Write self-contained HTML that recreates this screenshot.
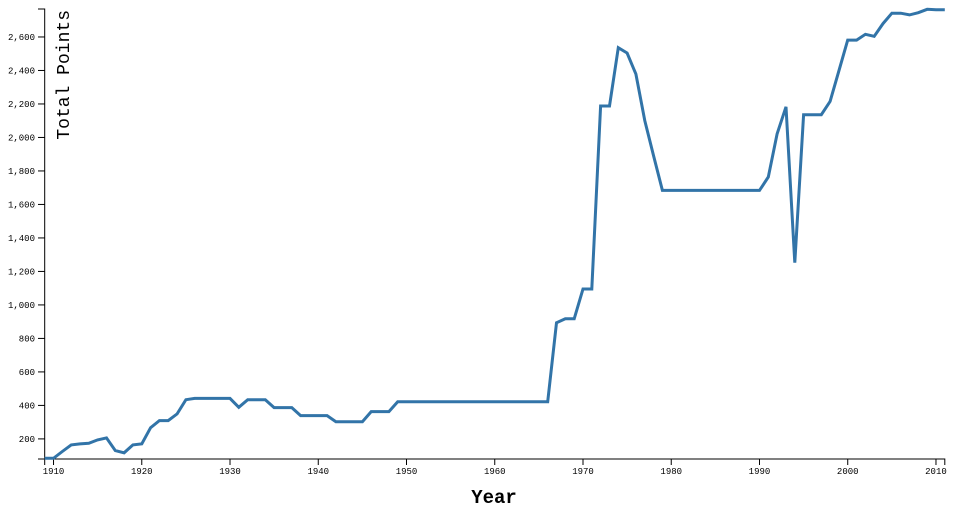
<!DOCTYPE html>
<html><head><meta charset="utf-8"><style>
body{margin:0;background:#fff;}
svg text{font-family:"Liberation Mono",monospace;}
.tick text{font-size:9px;fill:#000;}
</style></head><body>
<svg id="chart" width="959" height="511" xmlns="http://www.w3.org/2000/svg"></svg>
<script>
const years = [];
for (let y = 1909; y <= 2011; y++) years.push(y);
const points = [85,84,125,164,170,174,194,206,130,117,164,170,267,309,309,349,434,442,442,442,442,442,389,434,434,434,387,387,387,339,339,339,339,303,303,303,303,363,363,363,422,
422,422,422,422,422,422,422,422,422,422,422,422,422,422,422,422,422,
893,917,917,1095,1095,2188,2188,2536,2504,2378,2100,1890,1684,
1684,1684,1684,1684,1684,1684,1684,1684,1684,1684,1684,
1764,2021,2183,1252,2136,2136,2136,2215,2398,2581,2581,2616,2604,2680,2742,2742,2732,2745,2765,2762,2762];
const yTicks = [200,400,600,800,1000,1200,1400,1600,1800,2000,2200,2400,2600];
const xTicks = [1910,1920,1930,1940,1950,1960,1970,1980,1990,2000,2010];
const yMin = 80, yMax = 2767;

const NS = "http://www.w3.org/2000/svg";
const svg = document.getElementById("chart");
const L = 44.7, R = 944.8, T = 9, B = 459;
const x = v => L + (v - 1909) / (2011 - 1909) * (R - L);
const y = v => B - (v - yMin) / (yMax - yMin) * (B - T);
function el(tag, attrs, parent) {
  const e = document.createElementNS(NS, tag);
  for (const k in attrs) e.setAttribute(k, attrs[k]);
  (parent || svg).appendChild(e);
  return e;
}
// y axis
const yAxis = el("g", {class: "tick"});


el("path", {d: `M38,${T}H${L}V${B}H38`, fill: "none", stroke: "#000"}, yAxis);
yTicks.forEach(t => {
  const g = el("g", {}, yAxis);
  
  
  el("line", {x1: 38, x2: L, y1: y(t), y2: y(t), stroke: "#000"}, g);
  const tx = el("text", {x: 35, y: y(t) + 3, "text-anchor": "end"}, g);
  tx.textContent = t.toLocaleString("en-US");
});
// x axis
const xAxis = el("g", {class: "tick"});


el("path", {d: `M${L},465V${B}H${R}V465`, fill: "none", stroke: "#000"}, xAxis);
xTicks.forEach(t => {
  const g = el("g", {}, xAxis);
  
  
  el("line", {x1: x(t), x2: x(t), y1: B, y2: 465, stroke: "#000"}, g);
  const tx = el("text", {x: x(t), y: 474, "text-anchor": "middle"}, g);
  tx.textContent = t;
});
// titles
const yt = el("text", {transform: "translate(69,10) rotate(-90)", "text-anchor": "end", "font-size": "18px"});


yt.textContent = "Total Points";
const xt = el("text", {x: 494, y: 503, "text-anchor": "middle", "font-size": "19px", "font-weight": "bold"});


xt.textContent = "Year";
// line
const d = points.map((v, i) => (i ? "L" : "M") + x(years[i]).toFixed(1) + "," + y(v).toFixed(1)).join("");
const line = el("path", {d: d, fill: "none", stroke: "#3274a8", "stroke-width": 3});


</script>
</body></html>
